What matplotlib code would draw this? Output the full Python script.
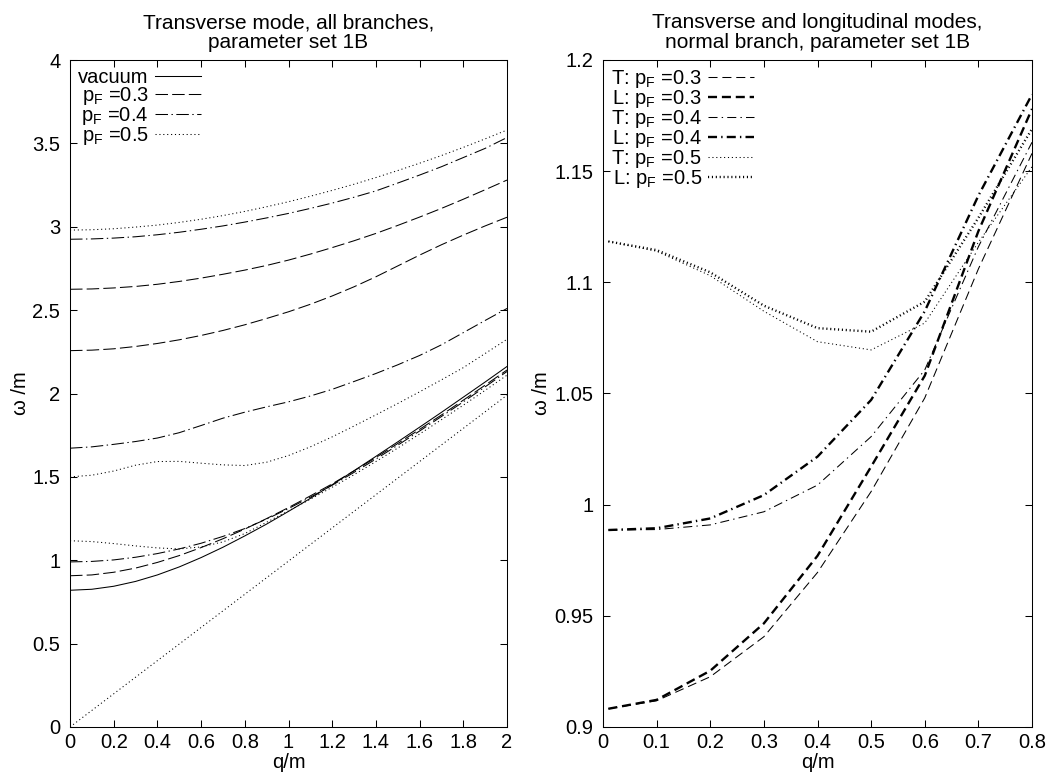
import numpy as np
import matplotlib
matplotlib.use('Agg')
import matplotlib.pyplot as plt
from matplotlib.ticker import FuncFormatter, MultipleLocator

plt.rcParams['font.family'] = ['Liberation Sans', 'DejaVu Sans']
plt.rcParams['font.size'] = 14.5
plt.rcParams['mathtext.fontset'] = 'custom'
plt.rcParams['mathtext.rm'] = 'Liberation Sans'
plt.rcParams['lines.scale_dashes'] = False

# ---- left panel: transverse mode, all branches ----
q = [0.0, 0.1, 0.2, 0.3, 0.4, 0.5, 0.6, 0.7, 0.8, 0.9, 1.0,
     1.1, 1.2, 1.3, 1.4, 1.5, 1.6, 1.7, 1.8, 1.9, 2.0]

vacuum = [0.820, 0.826, 0.844, 0.873, 0.912, 0.960, 1.016, 1.078, 1.146, 1.217, 1.293,
          1.371, 1.453, 1.537, 1.623, 1.710, 1.798, 1.887, 1.978, 2.069, 2.162]

# p_F = 0.3 (dashed)
p03_low = [0.907, 0.912, 0.928, 0.953, 0.987, 1.028, 1.076, 1.129, 1.187, 1.250, 1.316,
           1.386, 1.458, 1.536, 1.616, 1.700, 1.785, 1.871, 1.960, 2.050, 2.141]
p03_mid = [2.257, 2.260, 2.268, 2.282, 2.300, 2.322, 2.348, 2.378, 2.412, 2.450, 2.490,
           2.535, 2.585, 2.640, 2.700, 2.765, 2.830, 2.892, 2.950, 3.005, 3.057]
p03_top = [2.625, 2.627, 2.633, 2.642, 2.655, 2.672, 2.692, 2.715, 2.740, 2.768, 2.800,
           2.836, 2.875, 2.916, 2.960, 3.008, 3.058, 3.110, 3.165, 3.222, 3.280]

# p_F = 0.4 (dash-dot)
p04_low = [0.990, 0.993, 1.002, 1.018, 1.040, 1.068, 1.102, 1.143, 1.190, 1.247, 1.310,
           1.378, 1.450, 1.527, 1.607, 1.690, 1.775, 1.862, 1.950, 2.040, 2.132]
p04_mid = [1.672, 1.680, 1.695, 1.712, 1.733, 1.765, 1.808, 1.852, 1.888, 1.920, 1.950,
           1.985, 2.025, 2.072, 2.120, 2.172, 2.228, 2.292, 2.365, 2.438, 2.510]
p04_top = [2.925, 2.927, 2.932, 2.940, 2.952, 2.967, 2.985, 3.005, 3.028, 3.053, 3.080,
           3.110, 3.142, 3.177, 3.215, 3.262, 3.310, 3.360, 3.415, 3.470, 3.535]

# p_F = 0.5 (dotted)
p05_low = [1.117, 1.112, 1.100, 1.086, 1.074, 1.068, 1.080, 1.110, 1.160, 1.228, 1.296,
           1.366, 1.438, 1.513, 1.592, 1.673, 1.757, 1.843, 1.930, 2.019, 2.110]
p05_mid = [1.500, 1.510, 1.535, 1.570, 1.592, 1.593, 1.582, 1.572, 1.568, 1.588, 1.628,
           1.680, 1.740, 1.805, 1.872, 1.940, 2.010, 2.082, 2.155, 2.240, 2.325]
p05_top = [2.980, 2.982, 2.988, 2.998, 3.010, 3.026, 3.045, 3.067, 3.092, 3.120, 3.150,
           3.183, 3.218, 3.255, 3.295, 3.337, 3.381, 3.427, 3.476, 3.527, 3.580]
cone_q = [0.0, 2.0]
cone_w = [0.0, 1.99]

# ---- right panel: normal branch, T and L ----
k = [0.01, 0.1, 0.2, 0.3, 0.4, 0.5, 0.6, 0.7, 0.8]
T03 = [0.9082, 0.9118, 0.9226, 0.9406, 0.9695, 1.0059, 1.0480, 1.1060, 1.1580]
L03 = [0.9082, 0.9122, 0.9253, 0.9466, 0.9770, 1.0171, 1.0580, 1.1230, 1.1780]
T04 = [0.9886, 0.9888, 0.9909, 0.9968, 1.0088, 1.0306, 1.0606, 1.1160, 1.1630]
L04 = [0.9886, 0.9894, 0.9938, 1.0043, 1.0216, 1.0471, 1.0870, 1.1390, 1.1845]
T05 = [1.1184, 1.1140, 1.1030, 1.0870, 1.0733, 1.0696, 1.0817, 1.1180, 1.1520]
L05 = [1.1184, 1.1145, 1.1045, 1.0895, 1.0794, 1.0778, 1.0913, 1.1290, 1.1690]

# gnuplot-like line types (points, not scaled by width)
DASH_L = (9.0, 3.0)
DASHDOT_L = (9.0, 2.5, 1.0, 2.5)
DASH_R = (6.5, 3.5)
DASHDOT_R = (6.5, 3.0, 1.0, 3.0)
DOT = (0.8, 2.0)
thin = 0.75
thick = 1.7

fig = plt.figure(figsize=(10.51, 7.76), dpi=100)
ax1 = fig.add_axes([70 / 1051, 49 / 776, 437 / 1051, 667 / 776])
ax2 = fig.add_axes([603 / 1051, 49 / 776, 429 / 1051, 667 / 776])

fmt = FuncFormatter(lambda v, p: '%g' % round(v, 4))

# left
ax1.plot(q, vacuum, color='k', lw=thin, label='vacuum')
ax1.plot(q, p03_low, color='k', lw=thin, dashes=DASH_L, label=r'p$_{\mathrm{F}}$ =0.3')
ax1.plot(q, p04_low, color='k', lw=thin, dashes=DASHDOT_L, label=r'p$_{\mathrm{F}}$ =0.4')
ax1.plot(q, p05_low, color='k', lw=thin, dashes=DOT, label=r'p$_{\mathrm{F}}$ =0.5')
ax1.plot(q, p03_mid, color='k', lw=thin, dashes=DASH_L)
ax1.plot(q, p03_top, color='k', lw=thin, dashes=DASH_L)
ax1.plot(q, p04_mid, color='k', lw=thin, dashes=DASHDOT_L)
ax1.plot(q, p04_top, color='k', lw=thin, dashes=DASHDOT_L)
ax1.plot(q, p05_mid, color='k', lw=thin, dashes=DOT)
ax1.plot(q, p05_top, color='k', lw=thin, dashes=DOT)
ax1.plot(cone_q, cone_w, color='k', lw=thin, dashes=DOT)
ax1.set_xlim(0, 2)
ax1.set_ylim(0, 4)
ax1.xaxis.set_major_locator(MultipleLocator(0.2))
ax1.yaxis.set_major_locator(MultipleLocator(0.5))
ax1.set_title('Transverse mode, all branches,\nparameter set 1B', pad=9,
              linespacing=1.0, fontsize=15)

# right
ax2.plot(k, T03, color='k', lw=thin, dashes=DASH_R, label=r'T: p$_{\mathrm{F}}$ =0.3')
ax2.plot(k, L03, color='k', lw=thick, dashes=DASH_R, label=r'L: p$_{\mathrm{F}}$ =0.3')
ax2.plot(k, T04, color='k', lw=thin, dashes=DASHDOT_R, label=r'T: p$_{\mathrm{F}}$ =0.4')
ax2.plot(k, L04, color='k', lw=thick, dashes=DASHDOT_R, label=r'L: p$_{\mathrm{F}}$ =0.4')
ax2.plot(k, T05, color='k', lw=thin, dashes=DOT, label=r'T: p$_{\mathrm{F}}$ =0.5')
ax2.plot(k, L05, color='k', lw=thick, dashes=DOT, label=r'L: p$_{\mathrm{F}}$ =0.5')
ax2.set_xlim(0, 0.8)
ax2.set_ylim(0.9, 1.2)
ax2.xaxis.set_major_locator(MultipleLocator(0.1))
ax2.yaxis.set_major_locator(MultipleLocator(0.05))
ax2.set_title('Transverse and longitudinal modes,\nnormal branch, parameter set 1B', pad=9,
              linespacing=1.0, fontsize=15)

for ax in (ax1, ax2):
    ax.xaxis.set_major_formatter(fmt)
    ax.yaxis.set_major_formatter(fmt)
    ax.tick_params(direction='in', top=True, right=True, length=5, width=0.75, pad=4)
    ax.tick_params(axis='y', pad=7)
    for s in ax.spines.values():
        s.set_linewidth(0.75)
    ax.set_xlabel('q/m', labelpad=1)
    ax.set_ylabel('ω /m', labelpad=2)
    ax.legend(loc='upper left', frameon=False, markerfirst=False, handlelength=2.3,
              handletextpad=0.3, labelspacing=-0.1, borderaxespad=0.2, borderpad=0.2)

fig.savefig('out.png', dpi=100)
